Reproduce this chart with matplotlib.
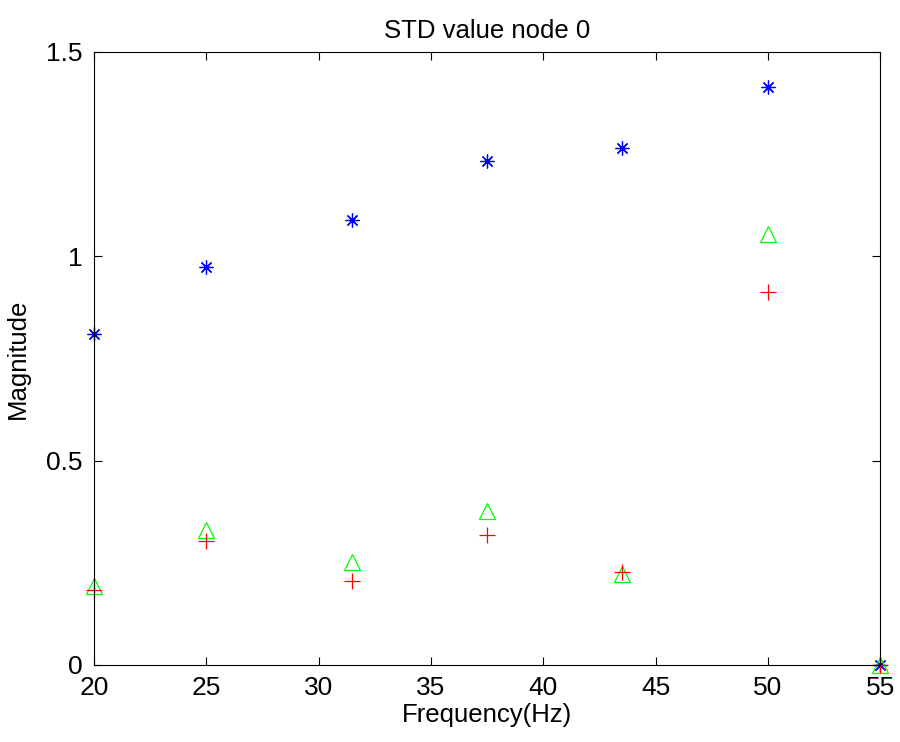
import numpy as np
import matplotlib.pyplot as plt

plt.rcParams['font.family'] = ['Liberation Sans', 'DejaVu Sans']

freq = [20, 25, 31.5, 37.5, 43.5, 50, 55]
std_star = [0.81, 0.973, 1.088, 1.232, 1.266, 1.415, 0.0]
std_tri = [0.193, 0.329, 0.251, 0.376, 0.222, 1.054, 0.0]
std_plus = [0.183, 0.302, 0.205, 0.317, 0.227, 0.912, 0.0]

fig = plt.figure(figsize=(9, 7.42), dpi=100)
ax = fig.add_axes([0.1044, 0.104, 0.8736, 0.826])

ax.plot(freq, std_star, linestyle='none', marker=(8, 2, 0), markersize=10,
        markeredgecolor='#0000ff', markeredgewidth=0.9, clip_on=False)
ax.plot(freq, std_tri, linestyle='none', marker='^', markersize=11,
        markerfacecolor='none', markeredgecolor='#00ff00', markeredgewidth=0.9,
        clip_on=False)
ax.plot(freq, std_plus, linestyle='none', marker='+', markersize=11,
        markeredgecolor='#ff0000', markeredgewidth=0.9, clip_on=False)

ax.set_xlim(20, 55)
ax.set_ylim(0, 1.5)
ax.set_xticks([20, 25, 30, 35, 40, 45, 50, 55])
ax.set_yticks([0, 0.5, 1, 1.5])
ax.set_yticklabels(['0', '0.5', '1', '1.5'])
ax.tick_params(direction='in', top=True, right=True, labelsize=19, length=6)
ax.tick_params(axis='x', pad=8)
ax.tick_params(axis='y', pad=8)
ax.set_xlabel('Frequency(Hz)', fontsize=18.5, labelpad=2)
ax.set_ylabel('Magnitude', fontsize=18.5, labelpad=12)
ax.set_title('STD value node 0', fontsize=18.5, pad=10)

fig.savefig('out.png')
